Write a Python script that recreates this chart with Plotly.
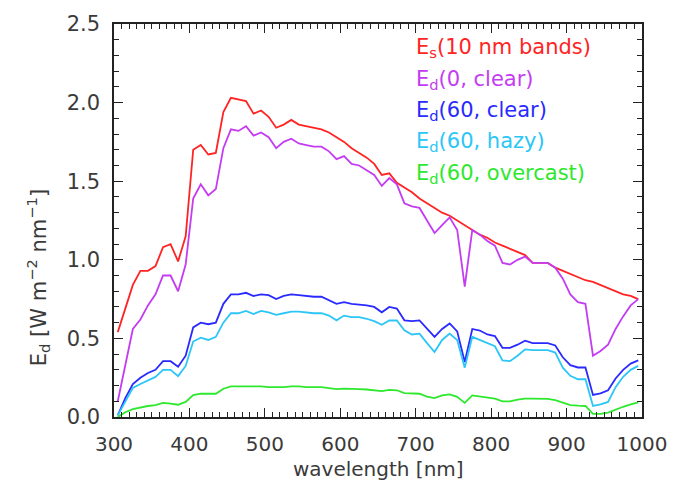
import plotly.graph_objects as go

# Band centres of the 10 nm spectral bands [nm]
wavelength = list(range(305, 1000, 10))

# Solar irradiance in 10 nm bands
es_bands = [
    0.54, 0.69, 0.84, 0.93, 0.93, 0.96, 1.08, 1.10, 0.99, 1.15,
    1.70, 1.73, 1.67, 1.68, 1.94, 2.03, 2.02, 2.01, 1.93, 1.95,
    1.91, 1.84, 1.86, 1.89, 1.86, 1.85, 1.84, 1.83, 1.81, 1.78,
    1.75, 1.71, 1.68, 1.65, 1.61, 1.54, 1.55, 1.49, 1.46, 1.43,
    1.39, 1.36, 1.33, 1.30, 1.28, 1.25, 1.22, 1.19, 1.16, 1.14,
    1.11, 1.09, 1.07, 1.05, 1.03, 0.98, 0.98, 0.98, 0.95, 0.93,
    0.91, 0.89, 0.87, 0.86, 0.84, 0.82, 0.80, 0.78, 0.77, 0.75,
]

# Downwelling irradiance, sun at zenith, clear sky
ed_0_clear = [
    0.10, 0.33, 0.56, 0.62, 0.71, 0.78, 0.90, 0.90, 0.80, 0.97,
    1.39, 1.48, 1.41, 1.45, 1.71, 1.83, 1.82, 1.85, 1.79, 1.81,
    1.78, 1.71, 1.75, 1.77, 1.74, 1.73, 1.72, 1.72, 1.69, 1.64,
    1.66, 1.61, 1.60, 1.57, 1.54, 1.47, 1.52, 1.48, 1.36, 1.34,
    1.33, 1.25, 1.17, 1.22, 1.27, 1.19, 0.83, 1.19, 1.16, 1.12,
    1.09, 0.98, 0.97, 1.00, 1.02, 0.98, 0.98, 0.98, 0.95, 0.88,
    0.78, 0.73, 0.72, 0.39, 0.42, 0.46, 0.56, 0.64, 0.71, 0.75,
]

# Sun at 60 degrees, clear sky
ed_60_clear = [
    0.01, 0.12, 0.21, 0.25, 0.28, 0.30, 0.355, 0.355, 0.32, 0.39,
    0.57, 0.60, 0.59, 0.60, 0.72, 0.78, 0.78, 0.79, 0.77, 0.78,
    0.775, 0.75, 0.77, 0.78, 0.775, 0.77, 0.765, 0.765, 0.74, 0.72,
    0.73, 0.72, 0.715, 0.71, 0.70, 0.666, 0.70, 0.69, 0.615, 0.61,
    0.615, 0.56, 0.51, 0.56, 0.595, 0.545, 0.35, 0.56, 0.55, 0.525,
    0.515, 0.44, 0.44, 0.46, 0.485, 0.47, 0.47, 0.47, 0.455, 0.38,
    0.33, 0.315, 0.315, 0.14, 0.15, 0.17, 0.245, 0.30, 0.34, 0.36,
]

# Sun at 60 degrees, hazy sky
ed_60_hazy = [
    0.01, 0.10, 0.185, 0.21, 0.235, 0.255, 0.30, 0.30, 0.26, 0.325,
    0.48, 0.505, 0.49, 0.51, 0.60, 0.66, 0.66, 0.675, 0.655, 0.675,
    0.665, 0.65, 0.66, 0.67, 0.67, 0.665, 0.66, 0.66, 0.645, 0.615,
    0.645, 0.635, 0.635, 0.625, 0.61, 0.587, 0.614, 0.614, 0.552, 0.525,
    0.53, 0.47, 0.413, 0.49, 0.53, 0.49, 0.314, 0.51, 0.49, 0.47,
    0.45, 0.36, 0.355, 0.39, 0.43, 0.425, 0.425, 0.425, 0.41, 0.314,
    0.262, 0.24, 0.24, 0.07, 0.08, 0.096, 0.19, 0.256, 0.30, 0.325,
]

# Sun at 60 degrees, overcast sky
ed_60_overcast = [
    0.0, 0.03, 0.05, 0.06, 0.07, 0.075, 0.09, 0.085, 0.078, 0.096,
    0.14, 0.148, 0.148, 0.148, 0.18, 0.195, 0.195, 0.195, 0.195, 0.195,
    0.19, 0.19, 0.19, 0.195, 0.195, 0.19, 0.19, 0.19, 0.183, 0.177,
    0.18, 0.18, 0.177, 0.175, 0.17, 0.165, 0.173, 0.17, 0.152, 0.148,
    0.148, 0.13, 0.12, 0.137, 0.144, 0.128, 0.09, 0.137, 0.13, 0.12,
    0.117, 0.10, 0.10, 0.11, 0.117, 0.117, 0.117, 0.115, 0.107, 0.09,
    0.076, 0.072, 0.07, 0.02, 0.02, 0.028, 0.049, 0.065, 0.08, 0.093,
]

series = [
    ("E<sub>s</sub>(10 nm bands)", es_bands, "#ff2424"),
    ("E<sub>d</sub>(0, clear)", ed_0_clear, "#c43cf2"),
    ("E<sub>d</sub>(60, clear)", ed_60_clear, "#2a2aff"),
    ("E<sub>d</sub>(60, hazy)", ed_60_hazy, "#2cc6f6"),
    ("E<sub>d</sub>(60, overcast)", ed_60_overcast, "#2ee82e"),
]

FONT = "DejaVu Sans"
TEXT = "#3a3a3a"
AX = "#222222"

fig = go.Figure()
for name, vals, col in series:
    fig.add_trace(go.Scatter(x=wavelength, y=vals, mode="lines", name=name,
                             line=dict(color=col, width=1.8), showlegend=False))

# Empty trace that anchors the top/right tick-only axes
fig.add_trace(go.Scatter(x=[], y=[], xaxis="x2", yaxis="y2", showlegend=False,
                         hoverinfo="skip"))

W, H = 697, 480
L, R, T, B = 114, 55, 15, 63
pw, ph = W - L - R, H - T - B


def px(x):
    return (x - L) / pw


def py(y):
    return (H - B - y) / ph


# Legend drawn as coloured text in the upper right
legend_y = [40, 72, 104, 136, 168]
for (name, vals, col), yy in zip(series, legend_y):
    fig.add_annotation(text=name, x=px(414), y=py(yy), xref="paper", yref="paper",
                       xanchor="left", yanchor="middle", showarrow=False,
                       font=dict(family=FONT, size=21, color=col))

# Axis titles
fig.add_annotation(text="wavelength [nm]", x=px(378), y=py(470), xref="paper", yref="paper",
                   xanchor="center", yanchor="middle", showarrow=False,
                   font=dict(family=FONT, size=20, color=TEXT))
fig.add_annotation(text="E<sub>d</sub> [W m<sup>\u22122</sup> nm<sup>\u22121</sup>]",
                   x=px(38), y=py(275), xref="paper", yref="paper", textangle=-90,
                   xanchor="center", yanchor="middle", showarrow=False,
                   font=dict(family=FONT, size=21, color=TEXT))

tick_style = dict(ticks="inside", ticklen=9, tickwidth=1.2, tickcolor=AX,
                  showgrid=False, zeroline=False)
minor_x = dict(dtick=10, ticks="inside", ticklen=5, tickcolor=AX, tickwidth=1)
minor_y = dict(dtick=0.1, ticks="inside", ticklen=5, tickcolor=AX, tickwidth=1)

fig.update_layout(
    width=W, height=H, margin=dict(l=L, r=R, t=T, b=B),
    paper_bgcolor="white", plot_bgcolor="white", showlegend=False,
    xaxis=dict(range=[300, 1000], dtick=100, tick0=300, ticklabelstandoff=8,
               showline=True, linecolor=AX, linewidth=1.5, minor=minor_x,
               tickfont=dict(family=FONT, size=20, color=TEXT), **tick_style),
    yaxis=dict(range=[0, 2.5], dtick=0.5, tick0=0, tickformat=".1f", ticklabelstandoff=8,
               showline=True, linecolor=AX, linewidth=1.5, minor=minor_y,
               tickfont=dict(family=FONT, size=21, color=TEXT), **tick_style),
    xaxis2=dict(range=[300, 1000], dtick=100, tick0=300, overlaying="x", side="top",
                showline=True, linecolor=AX, linewidth=1.5, showticklabels=False,
                minor=minor_x, **tick_style),
    yaxis2=dict(range=[0, 2.5], dtick=0.5, tick0=0, overlaying="y", side="right",
                showline=True, linecolor=AX, linewidth=1.5, showticklabels=False,
                minor=minor_y, **tick_style),
)

fig.write_html("out.html")
